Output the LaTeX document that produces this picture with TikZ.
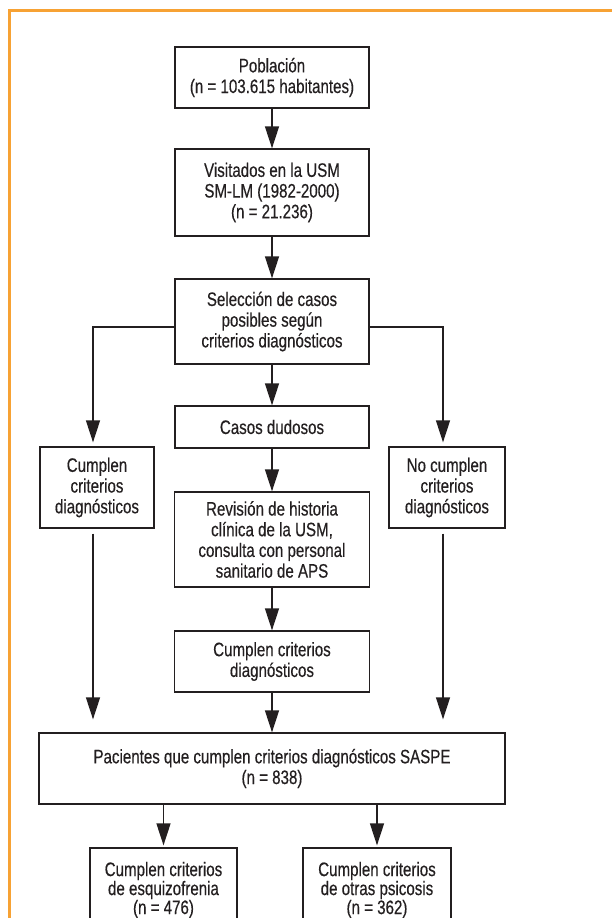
\documentclass[tikz,border=0pt]{standalone}
\usepackage{fontspec}
\setmainfont{Liberation Sans}[FakeStretch=0.775,FakeBold=0.4]
\usetikzlibrary{arrows.meta,calc}
\definecolor{frameorange}{RGB}{247,162,52}
\definecolor{ink}{RGB}{35,31,32}
\begin{document}
\begin{tikzpicture}[x=1pt,y=-1pt,
  box/.style={draw=ink,line width=1.3pt,text=ink,align=center,inner sep=0pt,
    font=\fontsize{19.5}{20.7}\selectfont},
  arr/.style={draw=ink,line width=1.3pt,-{Triangle[length=22pt,width=14pt]}}]
\useasboundingbox (0,0) rectangle (612,918);
\fill[white] (0,0) rectangle (612,918);
\draw[frameorange,line width=2.6pt] (9.5,930) -- (9.5,10.5) -- (620,10.5);

\node[box,minimum width=194pt,minimum height=61pt] (pob) at (272,77.5) {Población\\(n = 103.615 habitantes)};
\node[box,minimum width=194pt,minimum height=87pt] (vis) at (272,192.5) {Visitados en la USM\\SM-LM (1982-2000)\\(n = 21.236)};
\node[box,minimum width=194pt,minimum height=85pt] (sel) at (272,321.5) {Selección de casos\\posibles según\\criterios diagnósticos};
\node[box,minimum width=194pt,minimum height=42pt] (dud) at (272,427) {Casos dudosos};
\node[box,minimum width=114pt,minimum height=81pt] (cumL) at (97,487.5) {Cumplen\\criterios\\diagnósticos};
\node[box,minimum width=116pt,minimum height=81pt] (noR) at (447,487.5) {No cumplen\\criterios\\diagnósticos};
\node[box,minimum width=195pt,minimum height=95pt] (rev) at (272,539.5) {Revisión de historia\\clínica de la USM,\\consulta con personal\\sanitario de APS};
\node[box,minimum width=195pt,minimum height=61pt] (cum) at (272,661.5) {Cumplen criterios\\diagnósticos};
\node[box,minimum width=466pt,minimum height=71pt] (pac) at (272,768.5) {Pacientes que cumplen criterios diagnósticos SASPE\\(n = 838)};
\node[box,minimum width=147pt,minimum height=84pt,font=\fontsize{19.5}{19}\selectfont] (esq) at (163.5,890) {Cumplen criterios\\de esquizofrenia\\(n = 476)};
\node[box,minimum width=148pt,minimum height=84pt,font=\fontsize{19.5}{19}\selectfont] (otr) at (377,890) {Cumplen criterios\\de otras psicosis\\(n = 362)};

\draw[arr] (pob) -- (vis);
\draw[arr] (vis) -- (sel);
\draw[arr] (sel) -- (dud);
\draw[arr] (dud) -- (rev);
\draw[arr] (rev) -- (cum);
\draw[arr] (cum) -- (pac);
\draw[arr,shorten >=4pt] ([yshift=-5.5pt]sel.west) -| ([xshift=-4pt]cumL.north);
\draw[arr,shorten >=4pt] ([yshift=-5.5pt]sel.east) -| ([xshift=-4pt]noR.north);
\draw[arr,shorten <=5pt,shorten >=13pt] ([xshift=-4pt]cumL.south) -- ([xshift=-4pt]cumL.south |- pac.north);
\draw[arr,shorten <=5pt,shorten >=13pt] ([xshift=-4pt]noR.south) -- ([xshift=-4pt]noR.south |- pac.north);
\draw[arr,shorten >=2pt] (esq.north |- pac.south) -- (esq.north);
\draw[arr,shorten >=2pt] (otr.north |- pac.south) -- (otr.north);
\end{tikzpicture}
\end{document}
